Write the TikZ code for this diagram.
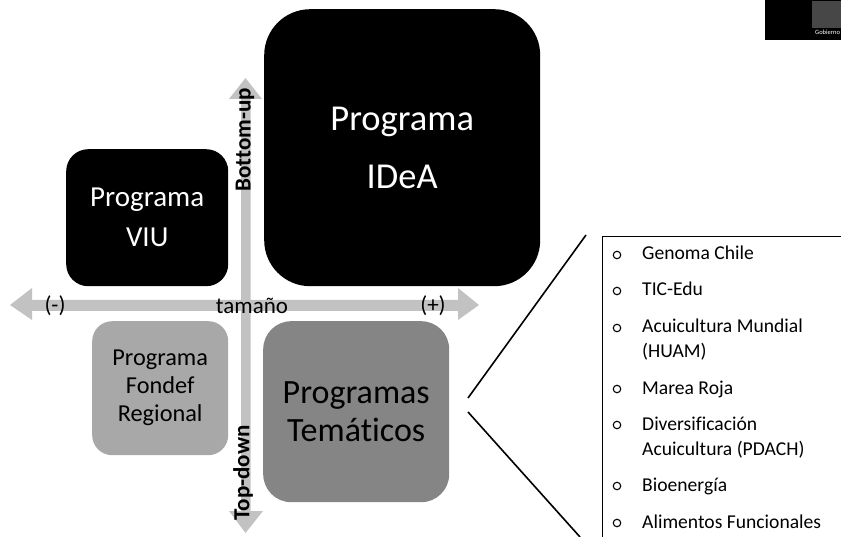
\documentclass[tikz,border=0pt]{standalone}
\usepackage{fontspec}
\setmainfont[Ligatures=NoCommon]{Carlito}
\definecolor{arrowgray}{gray}{0.76}
\definecolor{fondefgray}{gray}{0.66}
\definecolor{temagray}{gray}{0.52}
\tikzset{
  x=1pt,y=-1pt,
  prog/.style={inner sep=0pt,align=center,rounded corners=#1,anchor=north west},
  ax/.style={fill=arrowgray,draw=none},
  item/.style={anchor=base west,inner sep=0pt,align=left,font=\fontsize{19.6}{24.5}\selectfont},
  bul/.style={draw=black,line width=1.1pt,circle,inner sep=0pt,minimum size=7.5pt},
  axlabel/.style={font=\fontsize{23}{25}\selectfont,inner sep=0pt},
  vlabel/.style={font=\bfseries\fontsize{23}{25}\selectfont,inner sep=0pt,rotate=90},
  conn/.style={draw=black,line width=1.6pt}
}
\begin{document}
\begin{tikzpicture}
\useasboundingbox (0,0) rectangle (841,537);
% axes
\fill[ax] (10,305) -- (32,288) -- (32,300) -- (458,300) -- (458,288) -- (479,305) -- (458,320) -- (458,311) -- (32,311) -- (32,320) -- cycle;
\fill[ax] (245.5,78) -- (262,99) -- (250.5,99) -- (250.5,511) -- (263,511) -- (245.5,533) -- (229,511) -- (241,511) -- (241,99) -- (229,99) -- cycle;
% boxes
\node[prog=22pt,fill=black,minimum width=162pt,minimum height=137pt,text=white,font=\fontsize{29}{40}\selectfont] (viu) at (66,149) {Programa\\VIU};
\node[prog=46pt,fill=black,minimum width=276pt,minimum height=277pt,text=white,font=\fontsize{36.5}{58}\selectfont] (idea) at (264,9) {Programa\\IDeA};
\node[prog=20pt,fill=fondefgray,minimum width=136pt,minimum height=134pt,font=\fontsize{24.3}{28}\selectfont] (fondef) at (92,321) {Programa\\Fondef\\Regional};
\node[prog=28pt,fill=temagray,minimum width=186pt,minimum height=181pt,font=\fontsize{34}{38}\selectfont] (tema) at (263,321) {Programas\\Temáticos};
% axis labels
\node[axlabel] (tam) at (252,306) {tamaño};
\node[axlabel] (minus) at (55,306) {(-)};
\node[axlabel] (plus) at (433,306) {(+)};
\node[vlabel] (bu) at (245,140) {Bottom-up};
\node[vlabel] (td) at (243,473) {Top-down};
% list
\coordinate (boxtl) at (602,237);
\coordinate (boxbl) at (602,537);
\draw[line width=1pt] (boxbl) -- (boxtl) -- (841,237);
\foreach \yy/\t in {260/Genoma Chile,296/TIC-Edu,333/Acuicultura Mundial,394/Marea Roja,430/Diversificación,491/Bioenergía,528/Alimentos Funcionales}{
  \node[bul] at (617,\yy-5) {};
  \node[item] at (642,\yy) {\t};
}
\node[item] at (642,358) {(HUAM)};
\node[item] at (642,455) {Acuicultura (PDACH)};
% connectors
\coordinate (c1) at (468,398);
\coordinate (c2) at (586,235);
\coordinate (c3) at (468,412);
\coordinate (c4) at (580,537);
\draw[conn] (c1) -- (c2);
\draw[conn] (c3) -- (c4);
% logo
\fill[black] (765,0) rectangle (841,40);
\fill[black!72] (812,1) rectangle (841,28);
\begin{scope}
\clip (765,0) rectangle (841,40);
\node[text=white,inner sep=0pt,anchor=base west,font=\fontsize{6.5}{7}\selectfont] (gob) at (815,35) {Gobierno};
\end{scope}
\end{tikzpicture}
\end{document}
